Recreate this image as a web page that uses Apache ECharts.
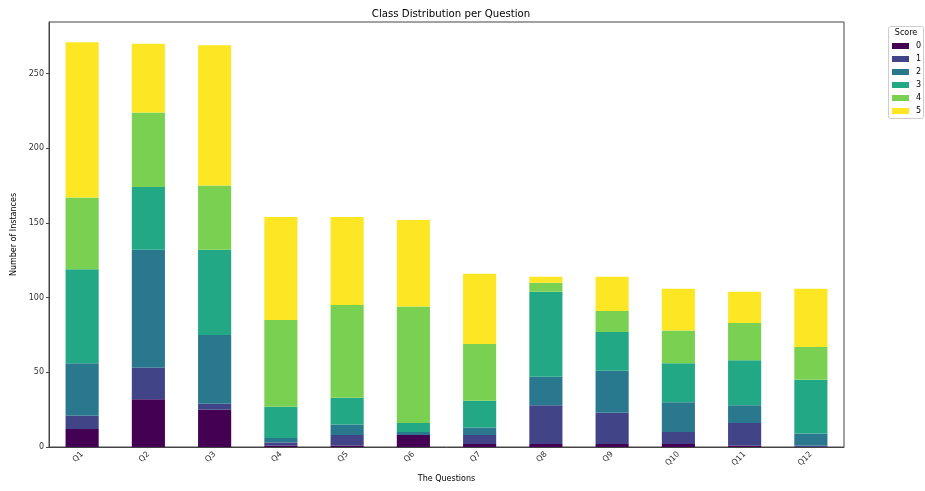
<!DOCTYPE html>
<html>
<head>
<meta charset="utf-8">
<script src="https://cdn.jsdelivr.net/npm/echarts@6/dist/echarts.min.js"></script>
<style>
html,body{margin:0;padding:0;background:#fff;}
#c{width:925px;height:491px;}
</style>
</head>
<body>
<div id="c"></div>
<script>
const categories = ['Q1','Q2','Q3','Q4','Q5','Q6','Q7','Q8','Q9','Q10','Q11','Q12'];
const scoreNames = ['0','1','2','3','4','5'];
const score0 = [12, 32, 25, 1, 1, 8, 2, 2, 2, 2, 1, 0];
const score1 = [9, 21, 4, 2, 7, 0, 6, 26, 21, 8, 15, 1];
const score2 = [35, 79, 46, 3, 7, 2, 5, 19, 28, 20, 12, 8];
const score3 = [63, 42, 57, 21, 18, 6, 18, 57, 26, 26, 30, 36];
const score4 = [48, 50, 43, 58, 62, 78, 38, 6, 14, 22, 25, 22];
const score5 = [104, 46, 94, 69, 59, 58, 47, 4, 23, 28, 21, 39];
const yTicks = [0, 50, 100, 150, 200, 250];

const seriesValues = [score0, score1, score2, score3, score4, score5];
const colors = ['#440154', '#414487', '#2a788e', '#22a884', '#7ad151', '#fde725'];
const font = 'DejaVu Sans';

const chart = echarts.init(document.getElementById('c'), null, {renderer: 'canvas'});
chart.setOption({
  animation: false,
  backgroundColor: '#fff',
  color: colors,
  title: {
    text: 'Class Distribution per Question',
    left: 446, top: 4, textAlign: 'center',
    textStyle: {fontFamily: font, fontSize: 10.2, fontWeight: 'normal', color: '#000'}
  },
  grid: {left: 49, right: 81, top: 22, bottom: 44, show: true, borderColor: '#444', borderWidth: 1, containLabel: false},
  legend: {
    orient: 'vertical', left: 892, top: 41, padding: 0,
    itemWidth: 17, itemHeight: 6, itemGap: 3,
    icon: 'rect', align: 'left',
    textStyle: {fontFamily: font, fontSize: 8, color: '#000', padding: [0,0,0,2], lineHeight: 10},
    data: scoreNames
  },
  graphic: [
    {type: 'rect', shape: {x: 888.5, y: 26.5, width: 35, height: 92, r: 2}, style: {fill: '#fff', stroke: '#ccc', lineWidth: 1}, z: 0},
    {type: 'text', style: {text: 'Score', x: 906, y: 29, textAlign: 'center', fontFamily: font, fontSize: 8, fill: '#000'}, z: 10}
  ],
  xAxis: {
    type: 'category', data: categories,
    name: 'The Questions', nameLocation: 'middle', nameGap: 28,
    nameTextStyle: {fontFamily: font, fontSize: 8, color: '#000'},
    axisLine: {lineStyle: {color: '#444'}},
    axisTick: {alignWithLabel: true, length: 3, lineStyle: {color: '#444'}},
    axisLabel: {rotate: 45, fontFamily: font, fontSize: 8, color: '#333', margin: 6}
  },
  yAxis: {
    type: 'value', min: 0, max: 284.55, interval: 50,
    name: 'Number of Instances', nameLocation: 'middle', nameGap: 26,
    nameTextStyle: {fontFamily: font, fontSize: 8, color: '#000'},
    axisLine: {show: true, lineStyle: {color: '#444'}},
    axisTick: {show: true, length: 3, lineStyle: {color: '#444'}},
    splitLine: {show: false},
    axisLabel: {fontFamily: font, fontSize: 8, color: '#333', margin: 5, showMaxLabel: false,
      formatter: v => yTicks.includes(v) ? String(v) : ''}
  },
  series: scoreNames.map((n, i) => ({
    name: n, type: 'bar', stack: 'total', barWidth: '50%',
    data: seriesValues[i],
    itemStyle: {color: colors[i]}
  }))
});
</script>
</body>
</html>
